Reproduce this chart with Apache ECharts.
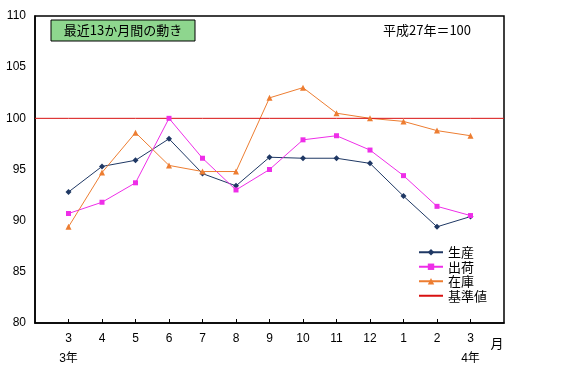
<!DOCTYPE html>
<html><head><meta charset="utf-8">
<script src="https://cdn.jsdelivr.net/npm/echarts@6/dist/echarts.min.js"></script>
<style>html,body{margin:0;padding:0;background:#fff}#c{width:567px;height:373px}</style>
</head><body><div id="c"></div>
<script>
var months = ['', '3', '4', '5', '6', '7', '8', '9', '10', '11', '12', '1', '2', '3', ''];
var years = ['', '3年', '', '', '', '', '', '', '', '', '', '', '', '4年', ''];
var production = [null, 92.8, 95.3, 95.9, 98.0, 94.6, 93.4, 96.2, 96.1, 96.1, 95.6, 92.4, 89.4, 90.4, null];
var shipments = [null, 90.7, 91.8, 93.7, 100.0, 96.1, 93.0, 95.0, 97.9, 98.3, 96.9, 94.4, 91.4, 90.5, null];
var inventory = [null, 89.4, 94.7, 98.6, 95.4, 94.8, 94.8, 102.0, 103.0, 100.5, 100.0, 99.7, 98.8, 98.3, null];
var baseline = [100, 100, 100, 100, 100, 100, 100, 100, 100, 100, 100, 100, 100, 100, 100];
var yTicks = [80, 85, 90, 95, 100, 105, 110];

var FONT = '"Liberation Sans", "Noto Sans CJK JP", sans-serif';
var chart = echarts.init(document.getElementById('c'), null, {renderer: 'canvas'});
chart.setOption({
  animation: false,
  textStyle: {fontFamily: FONT},
  grid: {left: 35, right: 63, top: 16, bottom: 50, show: true, borderColor: '#000', borderWidth: 1.5},
  xAxis: {
    type: 'category', data: months, boundaryGap: false,
    axisLine: {lineStyle: {color: '#000', width: 1.5}},
    axisTick: {inside: true, length: 4, lineStyle: {color: '#000'},
      interval: function (i) { return months[i] !== ''; }},
    axisLabel: {
      interval: 0, margin: 6, color: '#000', fontSize: 12, lineHeight: 20, fontFamily: FONT,
      formatter: function (v, i) { return years[i] ? v + '\n' + years[i] : v; }
    },
    splitLine: {show: false}
  },
  yAxis: {
    type: 'value', min: yTicks[0], max: yTicks[yTicks.length - 1], interval: 5,
    axisLine: {show: true, lineStyle: {color: '#000', width: 1.5}},
    axisTick: {show: false},
    axisLabel: {color: '#000', fontSize: 12, margin: 9, fontFamily: FONT},
    splitLine: {show: false}
  },
  legend: {
    orient: 'vertical', left: 413, top: 240, itemWidth: 24, itemHeight: 8, itemGap: 0,
    textStyle: {fontSize: 13, color: '#000', lineHeight: 14.5, fontFamily: '"Noto Sans CJK JP", sans-serif'},
    data: ['生産', '出荷', '在庫', {name: '基準値', itemStyle: {opacity: 0}}]
  },
  graphic: [
    {type: 'rect', shape: {x: 51, y: 20, width: 144, height: 21},
      style: {fill: '#8ed68e', stroke: '#000', lineWidth: 1}},
    {type: 'text', x: 123, y: 30.5,
      style: {text: '最近13か月間の動き', fill: '#000', font: '13px "Noto Sans CJK JP", sans-serif', align: 'center', verticalAlign: 'middle'}},
    {type: 'text', x: 427, y: 30,
      style: {text: '平成27年＝100', fill: '#000', font: '13px "Noto Sans CJK JP", sans-serif', align: 'center', verticalAlign: 'middle'}},
    {type: 'text', x: 497, y: 343,
      style: {text: '月', fill: '#000', font: '13px "Noto Sans CJK JP", sans-serif', align: 'center', verticalAlign: 'middle'}}
  ],
  series: [
    {name: '生産', type: 'line', data: production, symbol: 'diamond', symbolSize: 6,
      lineStyle: {color: '#1f3864', width: 1}, itemStyle: {color: '#1f3864'}},
    {name: '出荷', type: 'line', data: shipments, symbol: 'rect', symbolSize: 5,
      lineStyle: {color: '#ee2ee8', width: 1}, itemStyle: {color: '#ee2ee8'}},
    {name: '在庫', type: 'line', data: inventory, symbol: 'triangle', symbolSize: 6,
      lineStyle: {color: '#ed7d31', width: 1}, itemStyle: {color: '#ed7d31'}},
    {name: '基準値', type: 'line', data: baseline, symbol: 'none', showSymbol: false,
      lineStyle: {color: '#d81010', width: 1}, itemStyle: {color: '#d81010'}}
  ]
});
</script></body></html>
